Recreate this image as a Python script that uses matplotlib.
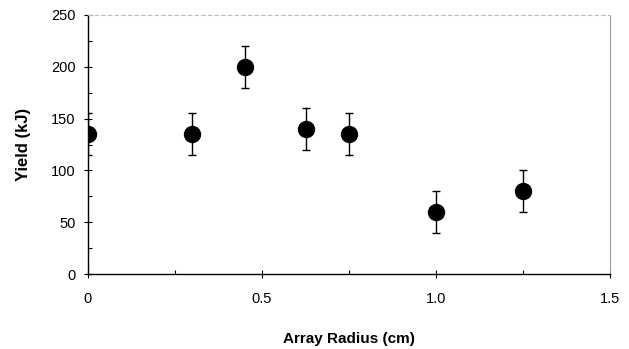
import matplotlib
matplotlib.use("Agg")
import matplotlib.pyplot as plt
from matplotlib.ticker import MultipleLocator

# data
radius = [0.0, 0.30, 0.45, 0.625, 0.75, 1.0, 1.25]
yield_kj = [135, 135, 200, 140, 135, 60, 80]
yerr = [20, 20, 20, 20, 20, 20, 20]

plt.rcParams["font.family"] = ["Liberation Sans", "DejaVu Sans"]

fig = plt.figure(figsize=(6.29, 3.49), dpi=100)
ax = fig.add_axes([88 / 629, 75 / 349, 522 / 629, 259 / 349])

ax.errorbar(radius, yield_kj, yerr=yerr, fmt="o", color="black", ms=11.5,
            elinewidth=1, capsize=3, capthick=1, zorder=3)

ax.set_xlim(0, 1.5)
ax.set_ylim(0, 250)
ax.set_xticks([0, 0.5, 1.0, 1.5])
ax.set_xticklabels(["0", "0.5", "1.0", "1.5"])
ax.set_yticks([0, 50, 100, 150, 200, 250])
ax.xaxis.set_minor_locator(MultipleLocator(0.25))
ax.yaxis.set_minor_locator(MultipleLocator(25))
ax.tick_params(which="major", direction="inout", length=6, width=0.8, labelsize=10.5, pad=6)
ax.tick_params(which="minor", direction="in", length=3, width=0.8)
ax.tick_params(axis="x", pad=10)

for s in ["left", "bottom"]:
    ax.spines[s].set_linewidth(1.0)
ax.spines["top"].set_color("#bbbbbb")
ax.spines["top"].set_linestyle((0, (3, 3)))
ax.spines["right"].set_color("#999999")

ax.set_xlabel("Array Radius (cm)", fontsize=11, fontweight="bold")
ax.xaxis.set_label_coords(0.5, -0.225)
ax.set_ylabel("Yield (kJ)", fontsize=12, fontweight="bold")
ax.yaxis.set_label_coords(-0.11, 0.5)

fig.savefig("out.png", dpi=100)
